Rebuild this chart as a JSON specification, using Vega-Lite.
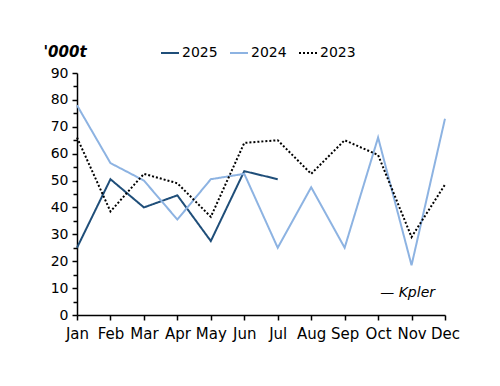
{
  "$schema": "https://vega.github.io/schema/vega-lite/v6.json",
  "width": 368,
  "height": 242,
  "autosize": {"type": "none"},
  "padding": {"left": 77, "top": 73, "right": 55, "bottom": 71},
  "background": "white",
  "config": {
    "view": {"stroke": null},
    "font": "DejaVu Sans",
    "axis": {"labelFont": "DejaVu Sans", "labelFontSize": 14, "labelColor": "black", "domainColor": "black", "tickColor": "black", "domainWidth": 1.5, "tickWidth": 1.5, "grid": false}
  },
  "datasets": {
    "series": [
      {"month": "Jan", "year": "2025", "value": 25},
      {"month": "Feb", "year": "2025", "value": 50.5},
      {"month": "Mar", "year": "2025", "value": 40},
      {"month": "Apr", "year": "2025", "value": 44.5},
      {"month": "May", "year": "2025", "value": 27.5},
      {"month": "Jun", "year": "2025", "value": 53.5},
      {"month": "Jul", "year": "2025", "value": 50.5},
      {"month": "Jan", "year": "2024", "value": 78},
      {"month": "Feb", "year": "2024", "value": 56.5},
      {"month": "Mar", "year": "2024", "value": 50},
      {"month": "Apr", "year": "2024", "value": 35.5},
      {"month": "May", "year": "2024", "value": 50.5},
      {"month": "Jun", "year": "2024", "value": 52.5},
      {"month": "Jul", "year": "2024", "value": 25},
      {"month": "Aug", "year": "2024", "value": 47.5},
      {"month": "Sep", "year": "2024", "value": 25},
      {"month": "Oct", "year": "2024", "value": 66},
      {"month": "Nov", "year": "2024", "value": 18.5},
      {"month": "Dec", "year": "2024", "value": 73},
      {"month": "Jan", "year": "2023", "value": 66},
      {"month": "Feb", "year": "2023", "value": 38.5},
      {"month": "Mar", "year": "2023", "value": 52.5},
      {"month": "Apr", "year": "2023", "value": 49},
      {"month": "May", "year": "2023", "value": 36.5},
      {"month": "Jun", "year": "2023", "value": 64},
      {"month": "Jul", "year": "2023", "value": 65},
      {"month": "Aug", "year": "2023", "value": 52.5},
      {"month": "Sep", "year": "2023", "value": 65},
      {"month": "Oct", "year": "2023", "value": 59.5},
      {"month": "Nov", "year": "2023", "value": 29},
      {"month": "Dec", "year": "2023", "value": 48.5}
    ],
    "note": [{"month": "Dec", "value": 8, "label": "— Kpler"}]
  },
  "resolve": {"axis": {"y": "independent"}},
  "layer": [
    {
      "data": {"name": "series"},
      "mark": {"type": "line", "strokeWidth": 2},
      "encoding": {
        "x": {
          "field": "month", "type": "ordinal",
          "sort": ["Jan","Feb","Mar","Apr","May","Jun","Jul","Aug","Sep","Oct","Nov","Dec"],
          "scale": {"type": "point", "padding": 0},
          "axis": {"title": null, "labelAngle": 0, "tickSize": 5, "labelPadding": 6, "labelFontSize": 15}
        },
        "y": {
          "field": "value", "type": "quantitative",
          "scale": {"domain": [0, 90], "nice": false},
          "axis": {
            "values": [0,10,20,30,40,50,60,70,80,90],
            "tickSize": 5, "labelPadding": 4,
            "title": "'000t", "titleAngle": 0, "titleAlign": "left", "titleBaseline": "alphabetic",
            "titleX": -34, "titleY": -17, "titleFontSize": 15, "titleFontStyle": "italic", "titleFontWeight": "bold", "titleColor": "black"
          }
        },
        "color": {
          "field": "year", "type": "nominal",
          "scale": {"domain": ["2025","2024","2023"], "range": ["#1f4e79","#8db3e2","#000000"]},
          "legend": {
            "orient": "none", "direction": "horizontal", "legendX": 83, "legendY": -30,
            "title": null, "symbolType": "stroke", "symbolSize": 324, "symbolStrokeWidth": 2,
            "labelFontSize": 14, "labelColor": "black", "labelOffset": 2, "columnPadding": 8
          }
        },
        "strokeDash": {
          "field": "year", "type": "nominal",
          "scale": {"domain": ["2025","2024","2023"], "range": [[1,0],[1,0],[2,2]]},
          "legend": null
        }
      }
    },
    {
      "data": {"name": "series"},
      "mark": {"type": "point", "opacity": 0},
      "encoding": {
        "x": {
          "field": "month", "type": "ordinal",
          "sort": ["Jan","Feb","Mar","Apr","May","Jun","Jul","Aug","Sep","Oct","Nov","Dec"],
          "scale": {"type": "point", "padding": 0}
        },
        "y": {
          "field": "value", "type": "quantitative",
          "scale": {"domain": [0, 90], "nice": false},
          "axis": {"orient": "left", "values": [5,15,25,35,45,55,65,75,85], "labels": false, "tickSize": 4, "domain": false, "title": null}
        }
      }
    },
    {
      "data": {"name": "note"},
      "mark": {"type": "text", "align": "right", "baseline": "middle", "dx": -10, "fontSize": 14, "fontStyle": "italic", "color": "black"},
      "encoding": {
        "x": {
          "field": "month", "type": "ordinal",
          "sort": ["Jan","Feb","Mar","Apr","May","Jun","Jul","Aug","Sep","Oct","Nov","Dec"],
          "scale": {"type": "point", "padding": 0}
        },
        "y": {"field": "value", "type": "quantitative", "scale": {"domain": [0, 90], "nice": false}, "axis": null},
        "text": {"field": "label"}
      }
    }
  ]
}
